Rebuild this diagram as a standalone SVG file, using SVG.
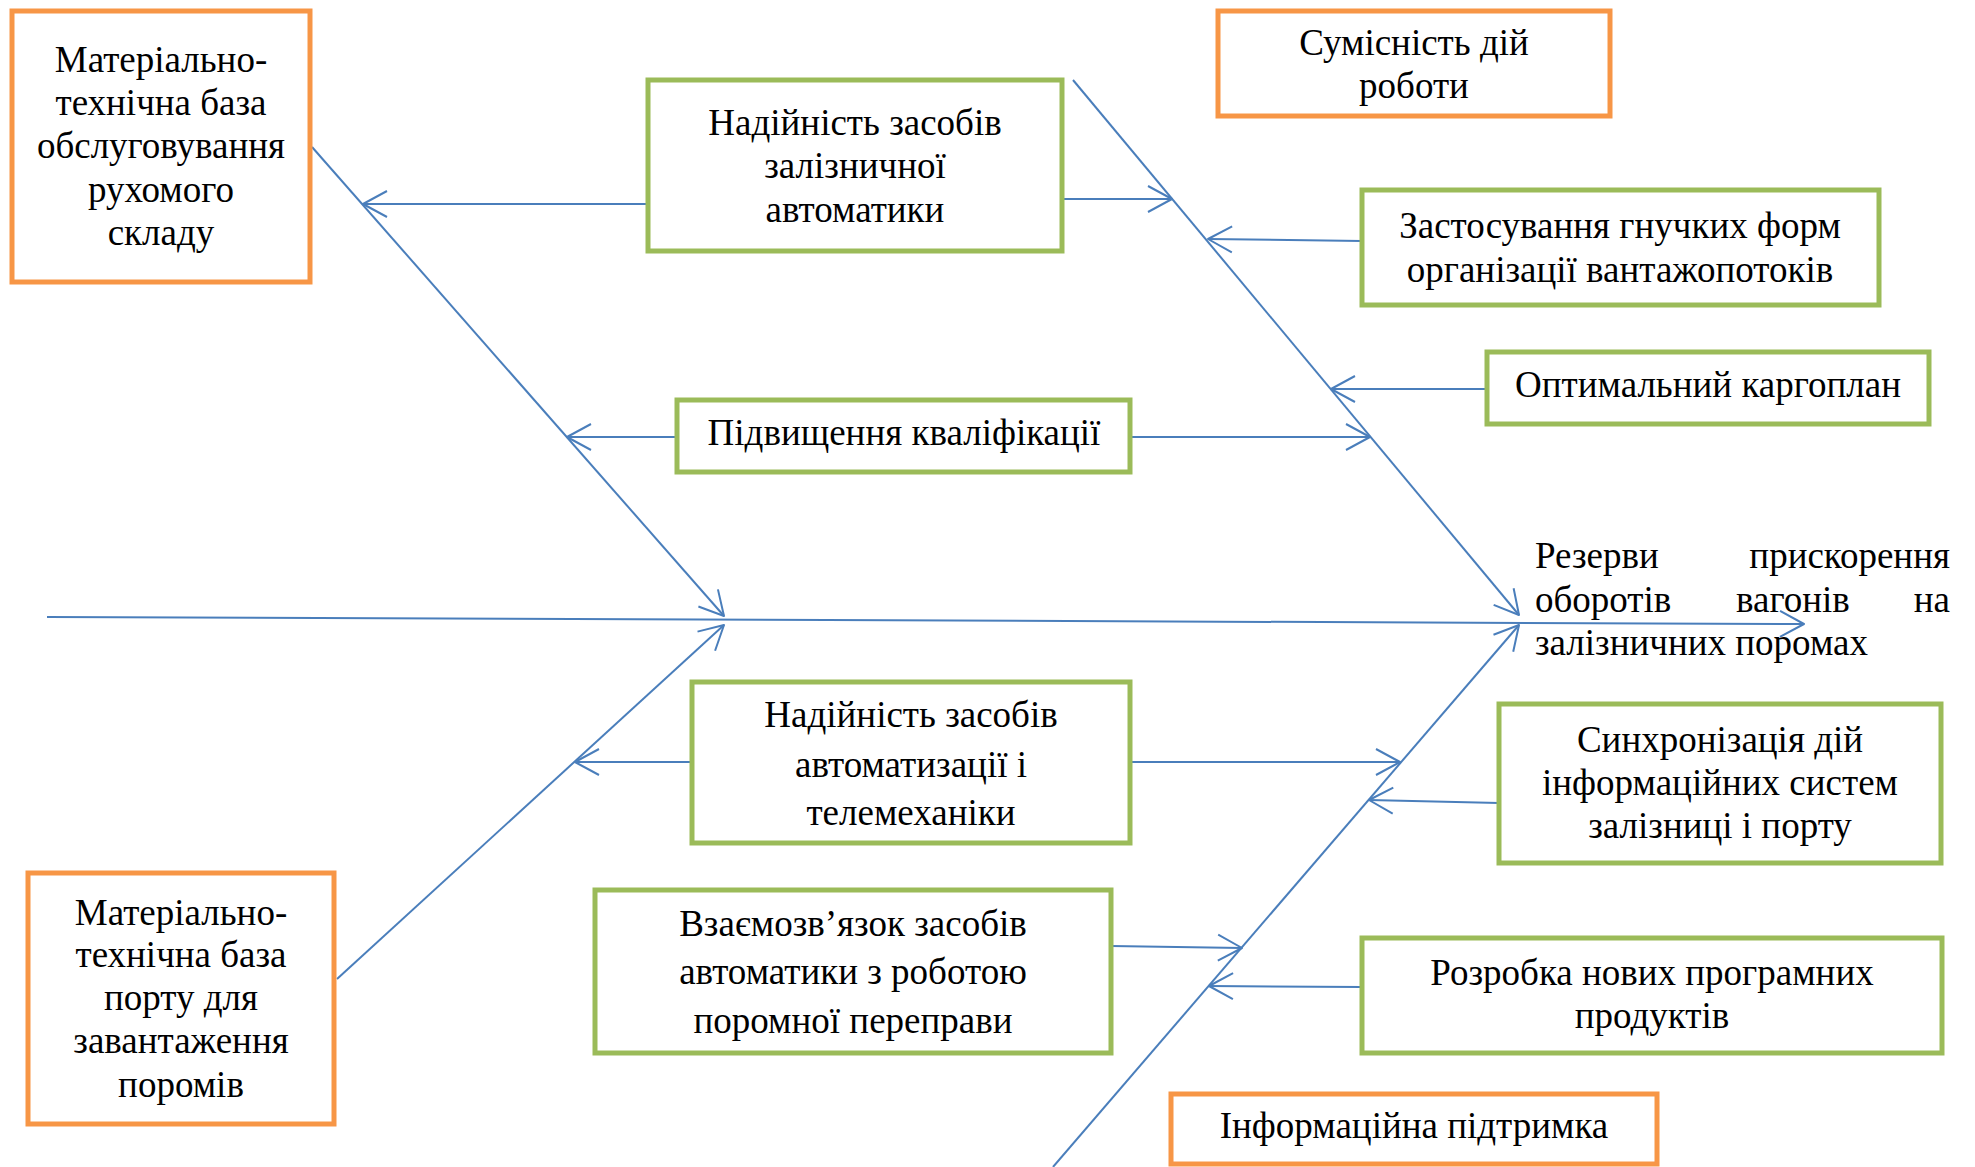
<svg xmlns="http://www.w3.org/2000/svg" width="1975" height="1167" viewBox="0 0 1975 1167">
<style>
.bo{fill:#fff;stroke:#F79646;stroke-width:5}
.bg{fill:#fff;stroke:#9BBB59;stroke-width:5}
.t{font-family:"Liberation Serif","Times New Roman",serif;font-size:37px;fill:#000;text-anchor:middle}
.ts{font-family:"Liberation Serif","Times New Roman",serif;font-size:37px;fill:#000}
.c{stroke:#4A7EBB;stroke-width:2;fill:none}
</style>
<defs>
<marker id="ah" markerUnits="userSpaceOnUse" markerWidth="30" markerHeight="30" refX="24" refY="13" orient="auto" overflow="visible">
<path d="M0,0 L24,13 L0,26" fill="none" stroke="#4A7EBB" stroke-width="2" stroke-linejoin="round"/>
</marker>
</defs>
<rect width="1975" height="1167" fill="#fff"/>
<g id="connectors">
<line class="c" x1="47" y1="617" x2="1804" y2="624" marker-end="url(#ah)"/>
<line class="c" x1="312" y1="147" x2="724" y2="616" marker-end="url(#ah)"/>
<line class="c" x1="337" y1="979" x2="724" y2="625" marker-end="url(#ah)"/>
<line class="c" x1="1073" y1="80" x2="1519" y2="615" marker-end="url(#ah)"/>
<line class="c" x1="1053" y1="1167" x2="1519" y2="625" marker-end="url(#ah)"/>
<line class="c" x1="648" y1="204" x2="363" y2="204" marker-end="url(#ah)"/>
<line class="c" x1="1062" y1="199" x2="1172" y2="199" marker-end="url(#ah)"/>
<line class="c" x1="1362" y1="241" x2="1208" y2="239" marker-end="url(#ah)"/>
<line class="c" x1="1487" y1="389" x2="1331" y2="389" marker-end="url(#ah)"/>
<line class="c" x1="677" y1="437" x2="567" y2="437" marker-end="url(#ah)"/>
<line class="c" x1="1130" y1="437" x2="1370" y2="437" marker-end="url(#ah)"/>
<line class="c" x1="692" y1="762" x2="575" y2="762" marker-end="url(#ah)"/>
<line class="c" x1="1130" y1="762" x2="1400" y2="762" marker-end="url(#ah)"/>
<line class="c" x1="1499" y1="803" x2="1369" y2="800" marker-end="url(#ah)"/>
<line class="c" x1="1111" y1="946" x2="1242" y2="948" marker-end="url(#ah)"/>
<line class="c" x1="1362" y1="987" x2="1209" y2="986" marker-end="url(#ah)"/>
</g>
<g id="n1">
<rect class="bo" x="12" y="11" width="298" height="271"/>
<text class="t"><tspan x="161" y="72">Матеріально-</tspan><tspan x="161" y="115">технічна база</tspan><tspan x="161" y="158">обслуговування</tspan><tspan x="161" y="202">рухомого</tspan><tspan x="161" y="245">складу</tspan></text>
</g>
<g id="n2">
<rect class="bg" x="648" y="80" width="414" height="171"/>
<text class="t"><tspan x="855" y="135">Надійність засобів</tspan><tspan x="855" y="178">залізничної</tspan><tspan x="855" y="222">автоматики</tspan></text>
</g>
<g id="n3">
<rect class="bo" x="1218" y="11" width="392" height="105"/>
<text class="t"><tspan x="1414" y="55">Сумісність дій</tspan><tspan x="1414" y="98">роботи</tspan></text>
</g>
<g id="n4">
<rect class="bg" x="1362" y="190" width="517" height="115"/>
<text class="t"><tspan x="1620" y="238">Застосування гнучких форм</tspan><tspan x="1620" y="282">організації вантажопотоків</tspan></text>
</g>
<g id="n5">
<rect class="bg" x="1487" y="352" width="442" height="72"/>
<text class="t" x="1708" y="397">Оптимальний каргоплан</text>
</g>
<g id="n6">
<rect class="bg" x="677" y="400" width="453" height="72"/>
<text class="t" x="904" y="445">Підвищення кваліфікації</text>
</g>
<g id="result">
<text class="ts" x="1535" y="568">Резерви</text>
<text class="ts" x="1950" y="568" text-anchor="end">прискорення</text>
<text class="ts" x="1535" y="612">оборотів</text>
<text class="ts" x="1736" y="612">вагонів</text>
<text class="ts" x="1950" y="612" text-anchor="end">на</text>
<text class="ts" x="1535" y="655">залізничних поромах</text>
</g>
<g id="n7">
<rect class="bg" x="692" y="682" width="438" height="161"/>
<text class="t"><tspan x="911" y="727">Надійність засобів</tspan><tspan x="911" y="777">автоматизації і</tspan><tspan x="911" y="825">телемеханіки</tspan></text>
</g>
<g id="n8">
<rect class="bg" x="1499" y="704" width="442" height="159"/>
<text class="t"><tspan x="1720" y="752">Синхронізація дій</tspan><tspan x="1720" y="795">інформаційних систем</tspan><tspan x="1720" y="838">залізниці і порту</tspan></text>
</g>
<g id="n9">
<rect class="bg" x="595" y="890" width="516" height="163"/>
<text class="t"><tspan x="853" y="936">Взаємозв’язок засобів</tspan><tspan x="853" y="984">автоматики з роботою</tspan><tspan x="853" y="1033">поромної переправи</tspan></text>
</g>
<g id="n10">
<rect class="bo" x="28" y="873" width="306" height="251"/>
<text class="t"><tspan x="181" y="925">Матеріально-</tspan><tspan x="181" y="967">технічна база</tspan><tspan x="181" y="1010">порту для</tspan><tspan x="181" y="1053">завантаження</tspan><tspan x="181" y="1097">поромів</tspan></text>
</g>
<g id="n11">
<rect class="bg" x="1362" y="938" width="580" height="115"/>
<text class="t"><tspan x="1652" y="985">Розробка нових програмних</tspan><tspan x="1652" y="1028">продуктів</tspan></text>
</g>
<g id="n12">
<rect class="bo" x="1171" y="1094" width="486" height="70"/>
<text class="t" x="1414" y="1138">Інформаційна підтримка</text>
</g>
</svg>
